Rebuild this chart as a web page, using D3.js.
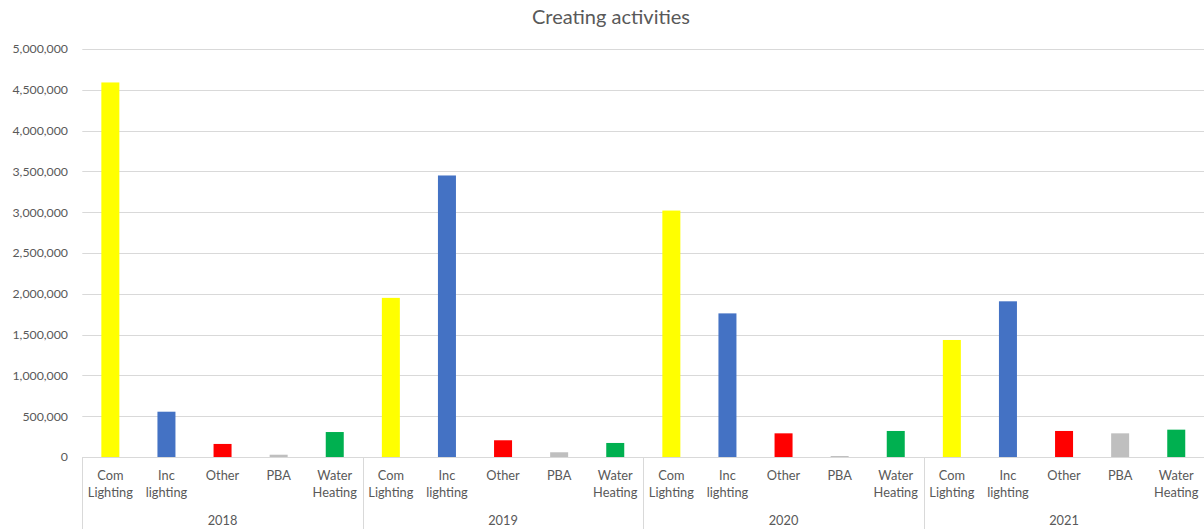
<!DOCTYPE html>
<html>
<head>
<meta charset="utf-8">
<script src="https://cdn.jsdelivr.net/npm/d3@7"></script>
<style>
  html, body { margin: 0; padding: 0; background: #fff; }
  svg { display: block; }
  text { font-family: Lato, "Open Sans", "Liberation Sans", sans-serif; fill: #595959; }
</style>
</head>
<body>
<svg id="chart" width="1204" height="529"></svg>
<script>
const title = "Creating activities";
const years = ["2018", "2019", "2020", "2021"];
const categories = ["Com Lighting", "Inc lighting", "Other", "PBA", "Water Heating"];
const categoryLines = [["Com", "Lighting"], ["Inc", "lighting"], ["Other"], ["PBA"], ["Water", "Heating"]];
const colors = ["#FFFF00", "#4472C4", "#FF0000", "#BFBFBF", "#00B050"];
const values2018 = [4590000, 555000, 160000, 28000, 306000];
const values2019 = [1950000, 3450000, 205000, 58000, 172000];
const values2020 = [3020000, 1760000, 290000, 12000, 319000];
const values2021 = [1434000, 1908000, 319000, 290000, 335000];
const yTicks = [0, 500000, 1000000, 1500000, 2000000, 2500000, 3000000, 3500000, 4000000, 4500000, 5000000];

const valuesByYear = [values2018, values2019, values2020, values2021];
const rows = [];
years.forEach((yr, yi) => categories.forEach((c, ci) => {
  rows.push({ key: yr + "|" + c, year: yr, cat: c, ci, value: valuesByYear[yi][ci] });
}));

const svg = d3.select("#chart");
const left = 82.3, right = 1204.3, zeroY = 457, topY = 49, bottom = 529;

const y = d3.scaleLinear().domain([0, 5000000]).range([zeroY, topY]);
const p = 1 - 18 / 56.1;
const x = d3.scaleBand().domain(rows.map(r => r.key)).range([left, right]).paddingInner(p).paddingOuter(p / 2);
const xYear = d3.scaleBand().domain(years).range([left, right]);

// title
svg.append("text").attr("x", 611).attr("y", 24).attr("text-anchor", "middle")
  .style("font-size", "20px").text(title);

// gridlines
svg.append("g").selectAll("line").data(yTicks.filter(d => d > 0)).join("line")
  .attr("x1", left).attr("x2", right)
  .attr("y1", d => Math.round(y(d)) + 0.5).attr("y2", d => Math.round(y(d)) + 0.5)
  .attr("stroke", "#d9d9d9").attr("stroke-width", 1);

// y axis labels
const yAxis = d3.axisLeft(y).tickValues(yTicks).tickFormat(d3.format(",")).tickSize(0).tickPadding(0);
const gy = svg.append("g").attr("transform", "translate(68,0)").call(yAxis);
gy.select(".domain").remove();
gy.selectAll("text").style("font-size", "12.3px").attr("fill", "#595959").attr("font-family", null);

// bars
svg.append("g").selectAll("rect").data(rows).join("rect")
  .attr("x", d => x(d.key)).attr("width", x.bandwidth())
  .attr("y", d => y(d.value)).attr("height", d => zeroY - y(d.value))
  .attr("fill", d => colors[d.ci]);

// x axis line
svg.append("line").attr("x1", left).attr("x2", right).attr("y1", zeroY + 0.5).attr("y2", zeroY + 0.5)
  .attr("stroke", "#d9d9d9");

// group dividers
const dividers = years.map(yr => xYear(yr)).concat([right]);
svg.append("g").selectAll("line").data(dividers).join("line")
  .attr("x1", d => Math.round(d) + 0.5).attr("x2", d => Math.round(d) + 0.5)
  .attr("y1", zeroY).attr("y2", bottom).attr("stroke", "#d9d9d9");

// category labels
const catG = svg.append("g").selectAll("text").data(rows).join("text")
  .attr("text-anchor", "middle").style("font-size", "12.8px")
  .attr("x", d => x(d.key) + x.bandwidth() / 2);
catG.each(function(d) {
  const t = d3.select(this);
  categoryLines[d.ci].forEach((ln, i) => {
    t.append("tspan").attr("x", x(d.key) + x.bandwidth() / 2).attr("y", 480 + i * 17).text(ln);
  });
});

// year labels
svg.append("g").selectAll("text").data(years).join("text")
  .attr("text-anchor", "middle").style("font-size", "12.8px")
  .attr("x", d => xYear(d) + xYear.bandwidth() / 2).attr("y", 525).text(d => d);
</script>
</body>
</html>
